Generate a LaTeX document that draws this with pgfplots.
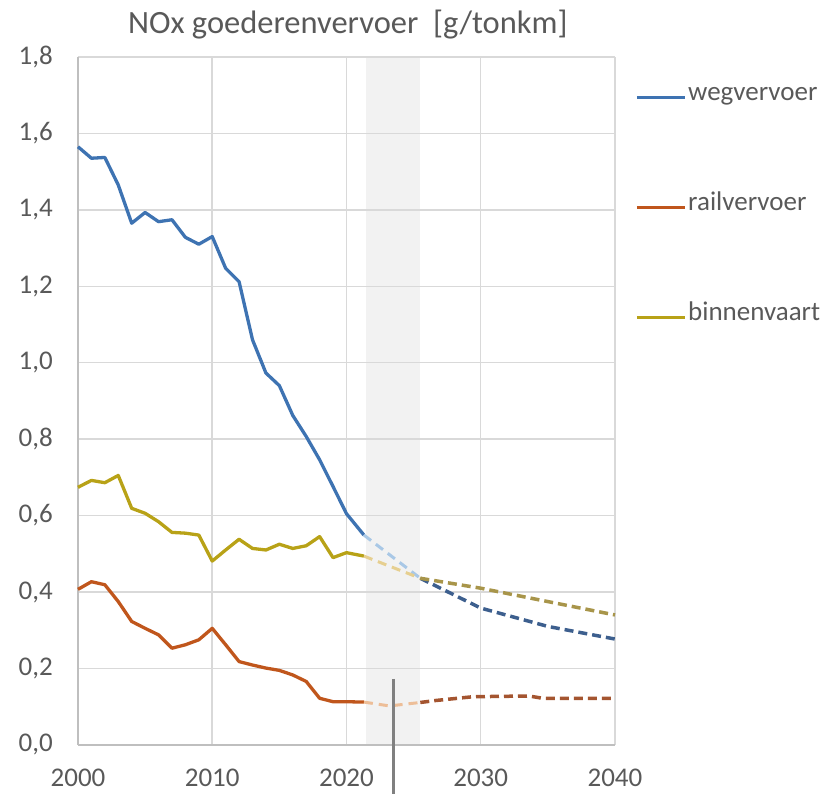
\documentclass[border=0pt]{standalone}
\usepackage{fontspec}
\setmainfont{Carlito}
\usepackage{pgfplots}
\pgfplotsset{compat=1.18}
\definecolor{cblue}{HTML}{3E73B2}
\definecolor{corange}{HTML}{C0561C}
\definecolor{cyellow}{HTML}{B8A217}
\definecolor{dblue}{HTML}{3D5F8E}
\definecolor{dorange}{HTML}{A45530}
\definecolor{dyellow}{HTML}{A8954A}
\definecolor{lblue}{HTML}{A9C8E6}
\definecolor{lorange}{HTML}{EDBE98}
\definecolor{lyellow}{HTML}{E6CF90}
\definecolor{txt}{HTML}{595959}
\definecolor{gridc}{HTML}{D9D9D9}
\definecolor{axc}{HTML}{BFBFBF}
\definecolor{band}{HTML}{F2F2F2}
\newcommand\ff{\fontsize{27bp}{31bp}\selectfont}
\begin{document}
\begin{tikzpicture}
\begin{axis}[
  set layers,
  scale only axis,
  width=537bp, height=688bp,
  at={(0,0)}, anchor=south west,
  xmin=2000, xmax=2040, ymin=0, ymax=1.8,
  xtick={2000,2010,...,2040},
  ytick={0,0.2,...,1.8},
  major tick length=0pt,
  grid=major,
  major grid style={draw=gridc, line width=1.5bp},
  axis x line*=bottom, axis y line*=left,
  axis line style={draw=axc, line width=2bp, -},
  clip=false,
  /pgf/number format/assume math mode=true,
  ticklabel style={font=\ff, text=txt, inner sep=0pt},
  xticklabel style={anchor=north, yshift=-24bp, /pgf/number format/1000 sep={}},
  yticklabel style={anchor=east, xshift=-25bp, /pgf/number format/.cd, use comma, fixed, fixed zerofill, precision=1},
]
\addplot[on layer=axis background, fill=band, draw=none, forget plot] coordinates {(2021.45,0) (2021.45,1.8) (2025.45,1.8) (2025.45,0)} -- cycle;

% wegvervoer
\addplot[color=cblue, line width=3.3bp, line join=round] coordinates {
(2000,1.565) (2001,1.535) (2002,1.537) (2003,1.465) (2004,1.365) (2005,1.393)
(2006,1.369) (2007,1.374) (2008,1.328) (2009,1.310) (2010,1.330) (2011,1.247)
(2012,1.212) (2013,1.060) (2014,0.973) (2015,0.940) (2016,0.862) (2017,0.807)
(2018,0.746) (2019,0.676) (2020,0.605) (2021.3,0.549)};
\addplot[color=lblue, line width=3bp, dash pattern=on 9bp off 6bp] coordinates {(2021.3,0.549) (2025.5,0.436)};
\addplot[color=dblue, line width=3.5bp, dash pattern=on 9bp off 5bp] coordinates {(2025.5,0.436) (2030,0.358) (2035,0.310) (2040,0.277)};

% railvervoer
\addplot[color=corange, line width=3.3bp, line join=round] coordinates {
(2000,0.407) (2001,0.427) (2002,0.419) (2003,0.375) (2004,0.323) (2005,0.305)
(2006,0.288) (2007,0.253) (2008,0.262) (2009,0.275) (2010,0.305) (2011,0.262)
(2012,0.218) (2013,0.209) (2014,0.201) (2015,0.195) (2016,0.183) (2017,0.166)
(2018,0.122) (2019,0.113) (2020,0.113) (2021.3,0.112)};
\addplot[color=lorange, line width=3bp, dash pattern=on 9bp off 6bp] coordinates {(2021.3,0.112) (2023.2,0.102) (2025.5,0.111)};
\addplot[color=dorange, line width=3.5bp, dash pattern=on 9bp off 5bp] coordinates {(2025.5,0.111) (2026.6,0.116) (2029.4,0.126) (2033.6,0.128) (2034.6,0.122) (2040,0.122)};

% binnenvaart
\addplot[color=cyellow, line width=3.3bp, line join=round] coordinates {
(2000,0.674) (2001,0.692) (2002,0.686) (2003,0.705) (2004,0.619) (2005,0.606)
(2006,0.584) (2007,0.556) (2008,0.554) (2009,0.549) (2010,0.481) (2011,0.510)
(2012,0.538) (2013,0.514) (2014,0.510) (2015,0.525) (2016,0.514) (2017,0.521)
(2018,0.545) (2019,0.490) (2020,0.503) (2021.3,0.494)};
\addplot[color=lyellow, line width=3bp, dash pattern=on 9bp off 6bp] coordinates {(2021.3,0.494) (2025.5,0.436)};
\addplot[color=dyellow, line width=3.5bp, dash pattern=on 9bp off 5bp] coordinates {(2025.5,0.436) (2030,0.410) (2035,0.375) (2040,0.340)};

% marker line
\draw[color=gray, line width=3bp] (axis cs:2023.5,0.173) -- (axis cs:2023.5,-0.13);

% title
\node[anchor=base, font=\fontsize{32.5bp}{36bp}\selectfont, text=txt, inner sep=0pt] at (axis cs:2020.1,1.862) {NOx goederenvervoer\ \ [g/tonkm]};

% legend
\draw[color=cblue, line width=3bp] (axis cs:2041.64,1.6926) -- (axis cs:2045.22,1.6926);
\node[anchor=mid west, font=\ff, text=txt, inner sep=0pt] at (axis cs:2045.44,1.6926) {wegvervoer};
\draw[color=corange, line width=3bp] (axis cs:2041.64,1.4048) -- (axis cs:2045.22,1.4048);
\node[anchor=mid west, font=\ff, text=txt, inner sep=0pt] at (axis cs:2045.44,1.4048) {railvervoer};
\draw[color=cyellow, line width=3bp] (axis cs:2041.64,1.117) -- (axis cs:2045.22,1.117);
\node[anchor=mid west, font=\ff, text=txt, inner sep=0pt] at (axis cs:2045.44,1.117) {binnenvaart};

\coordinate (bbA) at (axis cs:1994.19,-0.1282);
\coordinate (bbB) at (axis cs:2055.87,1.949);
\end{axis}
\pgfresetboundingbox
\path[use as bounding box] (bbA) rectangle (bbB);
\end{tikzpicture}
\end{document}
